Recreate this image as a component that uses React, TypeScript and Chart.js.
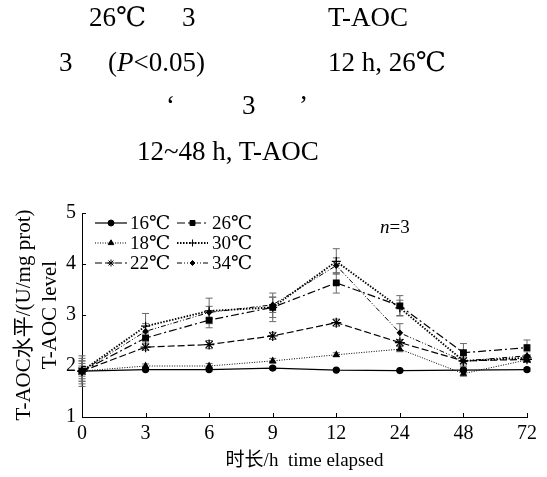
import React, { useEffect, useRef } from 'react';
import { Chart, registerables } from 'chart.js';
import { drawPoint } from 'chart.js/helpers';

Chart.register(...registerables);

// ---- data ----
const timeLabels = ['0', '3', '6', '9', '12', '24', '48', '72'];
const seriesNames = ['16℃', '18℃', '22℃', '26℃', '30℃', '34℃'];
const t16 = [1.9, 1.93, 1.93, 1.96, 1.92, 1.91, 1.92, 1.93];
const t18 = [1.9, 2.0, 2.0, 2.1, 2.22, 2.33, 1.85, 2.12];
const t22 = [1.9, 2.37, 2.42, 2.59, 2.85, 2.46, 2.1, 2.13];
const t26 = [1.9, 2.55, 2.9, 3.15, 3.63, 3.18, 2.26, 2.36];
const t30 = [1.9, 2.78, 3.08, 3.15, 4.05, 3.14, 2.1, 2.16];
const t34 = [1.9, 2.68, 3.05, 3.2, 3.97, 2.65, 2.1, 2.2];
const e16 = [0.1, 0.03, 0.03, 0.03, 0.02, 0.02, 0.03, 0.03];
const e18 = [0.15, 0.04, 0.05, 0.05, 0.04, 0.05, 0.05, 0.05];
const e22 = [0.2, 0.06, 0.08, 0.07, 0.07, 0.06, 0.06, 0.05];
const e26 = [0.25, 0.1, 0.15, 0.28, 0.2, 0.2, 0.18, 0.15];
const e30 = [0.2, 0.25, 0.25, 0.2, 0.25, 0.15, 0.1, 0.06];
const e34 = [0.3, 0.15, 0.12, 0.15, 0.15, 0.18, 0.12, 0.08];
const yTitle = ['T-AOC水平/(U/mg prot)', 'T-AOC level'];
const xTitle = '时长/h  time elapsed';
const nLabel = '=3';

const seriesValues = [t16, t18, t22, t26, t30, t34];
const seriesErrors = [e16, e18, e22, e26, e30, e34];

const FONT = "'Liberation Serif', 'Times New Roman', 'DejaVu Serif', 'Noto Sans CJK SC', serif";

const styles = [
  { dash: [], width: 1.2, point: 'circle', radius: 3 },
  { dash: [1, 1.5], width: 1, point: 'triangle', radius: 3.2 },
  { dash: [7, 3], width: 1.2, point: 'star', radius: 5 },
  { dash: [8, 3, 2, 3], width: 1.2, point: 'rect', radius: 4 },
  { dash: [1.5, 1.5], width: 1.8, point: 'cross', radius: 4.5 },
  { dash: [5, 2, 1, 2, 1, 2], width: 1, point: 'rectRot', radius: 2.5 },
];

const legendPos = [
  [0, 0], [0, 1], [0, 2], [1, 0], [1, 1], [1, 2],
];
const legendCols = [[95, 127, 130], [177, 208, 212]];
const legendRows = [223, 243, 263];

const errorBarPlugin = {
  id: 'errorBars',
  beforeDatasetsDraw(chart: any) {
    const ctx = chart.ctx;
    const yScale = chart.scales.y;
    ctx.save();
    ctx.strokeStyle = '#6a6a6a';
    ctx.lineWidth = 1;
    chart.data.datasets.forEach((ds: any, di: number) => {
      const meta = chart.getDatasetMeta(di);
      meta.data.forEach((pt: any, i: number) => {
        const v = seriesValues[di][i];
        const e = seriesErrors[di][i];
        const y1 = yScale.getPixelForValue(v + e);
        const y2 = yScale.getPixelForValue(v - e);
        ctx.beginPath();
        ctx.moveTo(pt.x, y1);
        ctx.lineTo(pt.x, y2);
        ctx.moveTo(pt.x - 3.5, y1);
        ctx.lineTo(pt.x + 3.5, y1);
        ctx.moveTo(pt.x - 3.5, y2);
        ctx.lineTo(pt.x + 3.5, y2);
        ctx.stroke();
      });
    });
    ctx.restore();
  },
};

const decorPlugin = {
  id: 'decor',
  afterDraw(chart: any) {
    const ctx = chart.ctx;
    const xs = chart.scales.x;
    const ys = chart.scales.y;
    const area = chart.chartArea;
    ctx.save();
    ctx.strokeStyle = '#000';
    ctx.lineWidth = 1;
    ctx.beginPath();
    xs.ticks.forEach((_t: any, i: number) => {
      const x = Math.round(xs.getPixelForTick(i)) + 0.5;
      ctx.moveTo(x, area.bottom);
      ctx.lineTo(x, area.bottom - 4);
    });
    ys.ticks.forEach((_t: any, i: number) => {
      const y = Math.round(ys.getPixelForTick(i)) + 0.5;
      ctx.moveTo(area.left, y);
      ctx.lineTo(area.left + 4, y);
    });
    ctx.stroke();

    // legend
    ctx.font = `19px ${FONT}`;
    ctx.textBaseline = 'middle';
    ctx.fillStyle = '#000';
    chart.data.datasets.forEach((ds: any, di: number) => {
      const [c, r] = legendPos[di];
      const [x1, x2, tx] = legendCols[c];
      const y = legendRows[r];
      const st = styles[di];
      ctx.save();
      ctx.strokeStyle = '#000';
      ctx.lineWidth = st.width;
      ctx.setLineDash(st.dash);
      ctx.beginPath();
      ctx.moveTo(x1, y);
      ctx.lineTo(x2, y);
      ctx.stroke();
      ctx.setLineDash([]);
      ctx.fillStyle = '#000';
      ctx.lineWidth = 1;
      drawPoint(ctx, { pointStyle: st.point, radius: Math.min(st.radius, 3.5), borderWidth: 1, rotation: 0 } as any, (x1 + x2) / 2, y);
      ctx.restore();
      ctx.fillText(seriesNames[di], tx, y + 1);
    });

    // n=3
    ctx.textBaseline = 'alphabetic';
    ctx.font = `italic 19px ${FONT}`;
    ctx.fillText('n', 380, 233);
    const w = ctx.measureText('n').width;
    ctx.font = `19px ${FONT}`;
    ctx.fillText(nLabel, 380 + w, 233);
    ctx.restore();
  },
};

const captionStyle: React.CSSProperties = {
  position: 'absolute',
  fontFamily: FONT,
  fontSize: 27,
  lineHeight: '27px',
  whiteSpace: 'pre',
  color: '#000',
};

const captions: { x: number; b: number; node: React.ReactNode }[] = [
  { x: 89, b: 27, node: '26℃' },
  { x: 182, b: 27, node: '3' },
  { x: 328, b: 27, node: 'T-AOC' },
  { x: 59, b: 72, node: '3' },
  { x: 108, b: 72, node: <>(<i>P</i>&lt;0.05)</> },
  { x: 328, b: 72, node: '12 h, 26℃' },
  { x: 166, b: 115, node: '‘' },
  { x: 242, b: 115, node: '3' },
  { x: 299, b: 115, node: '’' },
  { x: 137, b: 161, node: '12~48 h, T-AOC' },
];

export default function App() {
  const ref = useRef<HTMLCanvasElement>(null);
  useEffect(() => {
    if (!ref.current) return;
    const chart = new Chart(ref.current, {
      type: 'line',
      data: {
        labels: timeLabels,
        datasets: seriesValues.map((vals, i) => ({
          label: seriesNames[i],
          data: vals,
          borderColor: '#000',
          backgroundColor: '#000',
          borderWidth: styles[i].width,
          borderDash: styles[i].dash,
          pointStyle: styles[i].point as any,
          pointRadius: styles[i].radius,
          pointBorderWidth: 1.2,
          pointBorderColor: '#000',
          pointBackgroundColor: '#000',
          tension: 0,
          fill: false,
        })),
      },
      options: {
        animation: false,
        responsive: false,
        maintainAspectRatio: false,
        layout: { padding: { top: 213, right: 20, left: 0, bottom: 0 } },
        plugins: { legend: { display: false }, tooltip: { enabled: false }, title: { display: false } },
        scales: {
          x: {
            type: 'category',
            offset: false,
            grid: { drawOnChartArea: false, drawTicks: false },
            border: { color: '#000', width: 1 },
            ticks: { color: '#000', font: { family: FONT, size: 20 }, padding: 5, maxRotation: 0, autoSkip: false },
            title: { display: true, text: xTitle, color: '#000', font: { family: FONT, size: 19 }, padding: { top: 0, bottom: 5 } },
            afterFit: (s: any) => { s.height = 60; },
          },
          y: {
            min: 1,
            max: 5,
            grid: { drawOnChartArea: false, drawTicks: false },
            border: { color: '#000', width: 1 },
            ticks: { stepSize: 1, color: '#000', font: { family: FONT, size: 20 }, padding: 6 },
            title: { display: true, text: yTitle, color: '#000', font: { family: FONT, size: 21, lineHeight: '26px' } as any, padding: { top: 11, bottom: 0 } },
            afterFit: (s: any) => { s.width = 82; },
          },
        },
      },
      plugins: [errorBarPlugin, decorPlugin],
    });
    return () => chart.destroy();
  }, []);

  return (
    <div style={{ position: 'fixed', left: 0, top: 0, width: 547, height: 477, background: '#fff' }}>
      <canvas ref={ref} width={547} height={477} style={{ position: 'absolute', left: 0, top: 0, width: 547, height: 477 }} />
      {captions.map((c, i) => (
        <span key={i} style={{ ...captionStyle, left: c.x, top: c.b - 23 }}>{c.node}</span>
      ))}
    </div>
  );
}
